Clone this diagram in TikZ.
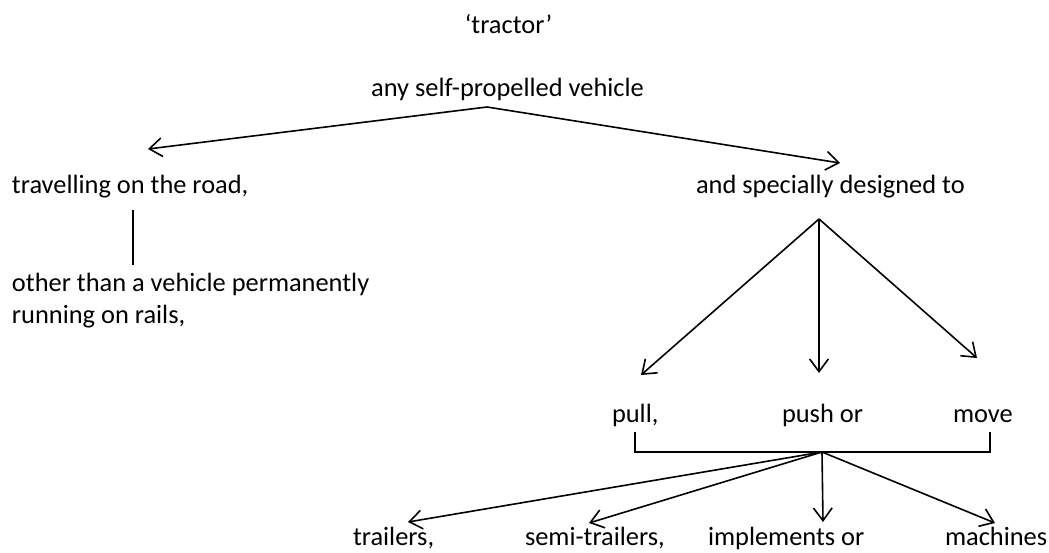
\documentclass[tikz,border=0pt]{standalone}
\usepackage{fontspec}
\setmainfont{Carlito}
\usetikzlibrary{arrows.meta}
\begin{document}
\begin{tikzpicture}[x=0.75pt,y=-0.75pt,
  lbl/.style={inner sep=0pt,outer sep=0pt,anchor=base west,font=\fontsize{19.8pt}{24.2pt}\selectfont},
  clbl/.style={lbl,anchor=base},
  conn/.style={line width=1.2pt,black},
  arr/.style={conn,-{Straight Barb[length=9.5pt,width=14pt,line width=1.2pt]}}]
\useasboundingbox (0,0) rectangle (1049,553);
% nodes
\node[clbl] (tractor) at (508.5,33) {‘tractor’};
\node[clbl] (any) at (507.5,96) {any self-propelled vehicle};
\node[lbl] (road) at (12,193) {travelling on the road,};
\node[lbl] (designed) at (696,193) {and specially designed to};
\node[lbl,align=left,anchor=north west] (rails) at (12,273) {other than a vehicle permanently\\running on rails,};
\node[lbl] (pull) at (612,422) {pull,};
\node[lbl] (push) at (782,422) {push or};
\node[lbl] (move) at (953,422) {move};
\node[lbl] (trailers) at (353,545) {trailers,};
\node[lbl] (semi) at (525,545) {semi-trailers,};
\node[lbl] (impl) at (708,545) {implements or};
\node[lbl] (mach) at (945,545) {machines};
% coordinates
\coordinate (a1) at (487,107);
\coordinate (t1) at (148,149);
\coordinate (t2) at (840,163);
\coordinate (v1) at (133,210);
\coordinate (v2) at (133,265);
\coordinate (a2) at (819,219);
\coordinate (t3) at (641,375);
\coordinate (t4) at (819,373);
\coordinate (t5) at (977,358);
\coordinate (bl) at (635,432);
\coordinate (br) at (990,432);
\coordinate (a3) at (822,452);
\coordinate (t6) at (408,522);
\coordinate (t7) at (589,523);
\coordinate (t8) at (823,522);
\coordinate (t9) at (995,523);
% connectors
\draw[arr] (a1) -- (t1);
\draw[arr] (a1) -- (t2);
\draw[conn] (v1) -- (v2);
\draw[arr] (a2) -- (t3);
\draw[arr] (a2) -- (t4);
\draw[arr] (a2) -- (t5);
\draw[conn] (bl) |- (a3) -| (br);
\draw[arr] (a3) -- (t6);
\draw[arr] (a3) -- (t7);
\draw[arr] (a3) -- (t8);
\draw[arr] (a3) -- (t9);
\end{tikzpicture}
\end{document}
